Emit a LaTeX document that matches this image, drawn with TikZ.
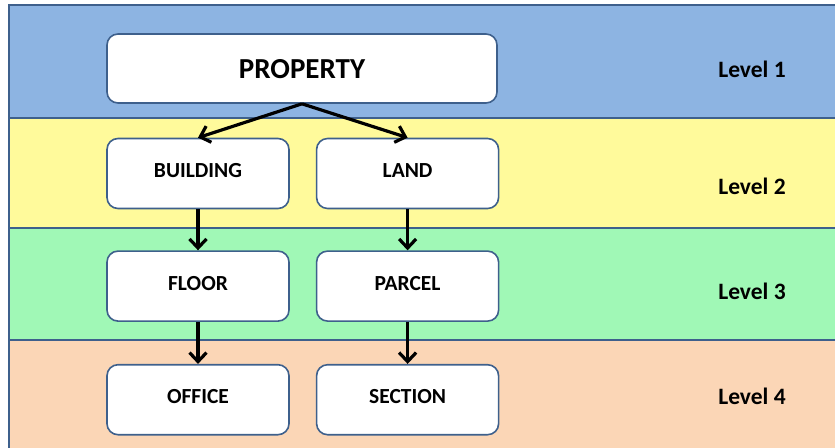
\documentclass[tikz,border=0pt]{standalone}
\usepackage{fontspec}
\setmainfont{Carlito}
\usepackage{xcolor}
\usetikzlibrary{arrows.meta,positioning}
\definecolor{lvlblue}{RGB}{141,180,226}
\definecolor{lvlyellow}{RGB}{255,250,155}
\definecolor{lvlgreen}{RGB}{160,248,182}
\definecolor{lvlpeach}{RGB}{251,214,182}
\definecolor{frameblue}{RGB}{62,96,140}

\begin{document}
\begin{tikzpicture}[x=1pt,y=-1pt,
  box/.style={draw=frameblue,line width=1.6pt,rounded corners=11pt,fill=white,
              minimum width=182pt,minimum height=70pt,text height=14pt,text depth=6pt,
              font=\fontsize{21.5}{24}\selectfont\bfseries},
  band/.style={draw=frameblue,line width=1.8pt},
  lvl/.style={font=\fontsize{23.5}{26}\selectfont\bfseries},
  arr/.style={line width=3.2pt,-{Straight Barb[length=9pt,width=17pt,line width=3.2pt]}}]
\useasboundingbox (0,0) rectangle (835,447);
% level bands
\begin{scope}
\clip (0,0) rectangle (835,447);
\draw[band,fill=lvlblue]   (9,5) rectangle (845,118);
\draw[band,fill=lvlyellow] (9,118) rectangle (845,228);
\draw[band,fill=lvlgreen]  (9,228) rectangle (845,340);
\draw[band,fill=lvlpeach]  (9,340) rectangle (845,460);
\end{scope}
% boxes
\node[box,minimum width=390pt,minimum height=69pt,text height=19pt,text depth=0pt,
  font=\fontsize{29}{32}\selectfont\bfseries] (property) at (302,68.5) {PROPERTY};
\node[box] (building) at (198,173.5) {BUILDING};
\node[box,right=26pt of building] (land) {LAND};
\node[box,below=41pt of building] (floor) {FLOOR};
\node[box,below=41pt of land] (parcel) {PARCEL};
\node[box,below=42pt of floor] (office) {OFFICE};
\node[box,below=42pt of parcel] (section) {SECTION};
% level labels
\node[lvl] (l1) at (752,69) {Level 1};
\node[lvl] (l2) at (752,186) {Level 2};
\node[lvl] (l3) at (752,291) {Level 3};
\node[lvl] (l4) at (752,396) {Level 4};
% links
\draw[arr] (property.south) -- (building.north);
\draw[arr] (property.south) -- (land.north);
\draw[arr] (building) -- (floor);
\draw[arr] (land) -- (parcel);
\draw[arr] (floor) -- (office);
\draw[arr] (parcel) -- (section);
\end{tikzpicture}
\end{document}
